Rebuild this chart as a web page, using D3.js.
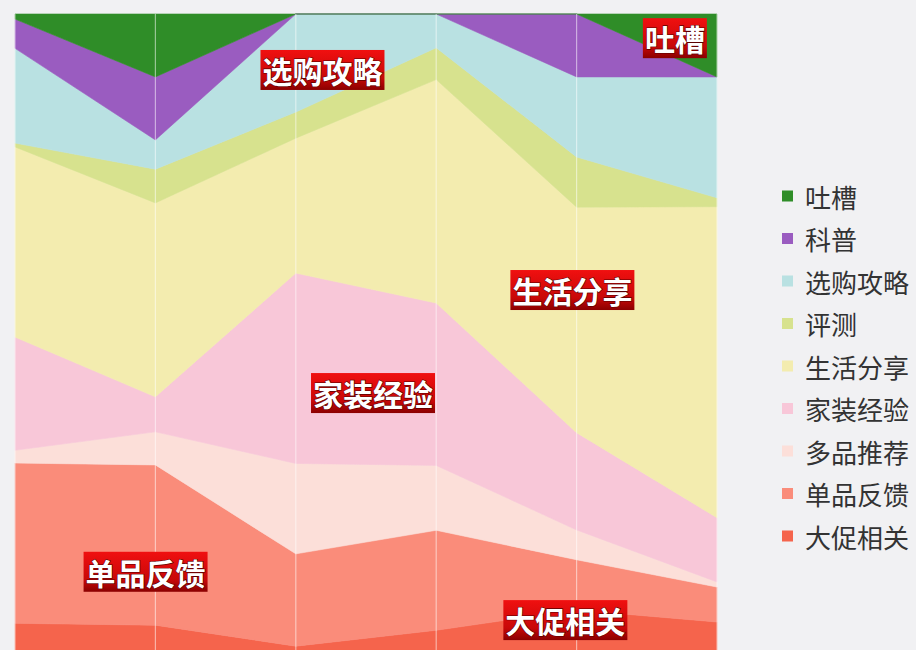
<!DOCTYPE html>
<html>
<head>
<meta charset="utf-8">
<script src="https://cdn.jsdelivr.net/npm/d3@7"></script>
<style>
  body { margin: 0; background: #f1f1f3; }
  svg { display: block; font-family: "Noto Sans CJK SC", "Noto Sans", sans-serif; }
</style>
</head>
<body>
<svg id="chart" width="916" height="650"></svg>
<script>
// Six reporting periods (x axis)
const periods = ["P1", "P2", "P3", "P4", "P5", "P6"];

// Content categories, bottom of the stack first
const categories = ["大促相关", "单品反馈", "多品推荐", "家装经验", "生活分享", "评测", "选购攻略", "科普", "吐槽"];

// Share of posts per category (%) in each period
const promo          = [4.2, 3.9, 0.6, 3.1, 6.3, 4.4];
const singleFeedback = [25.2, 25.2, 14.5, 15.7, 7.9, 5.5];
const multiPick      = [2.0, 5.2, 14.2, 10.2, 4.7, 0.8];
const homeDecor      = [17.8, 5.5, 29.9, 25.5, 15.3, 10.1];
const lifeSharing    = [29.9, 30.5, 21.2, 35.1, 35.5, 48.9];
const review         = [0.6, 5.3, 4.1, 5.0, 7.9, 1.4];
const buyingGuide    = [14.9, 4.6, 15.4, 5.3, 12.6, 19.0];
const science        = [4.6, 9.9, 0, 0, 9.9, 0];
const rant           = [0.8, 9.9, 0, 0, 0, 9.9];

const seriesValues = [promo, singleFeedback, multiPick, homeDecor, lifeSharing, review, buyingGuide, science, rant];

const colors = ["#f5644c", "#fa8c7a", "#fcdfd9", "#f8c7d8", "#f3ecaf", "#d7e28e", "#b9e1e2", "#9a5cc0", "#2f8d28"];

// Callout labels, anchored in data space: period index and cumulative share (%)
const callouts = [
  { name: "选购攻略", at: 2.19, share: 91.2 },
  { name: "吐槽",     at: 4.70, share: 96.2 },
  { name: "生活分享", at: 3.97, share: 56.6 },
  { name: "家装经验", at: 2.55, share: 40.4 },
  { name: "单品反馈", at: 0.93, share: 12.3 },
  { name: "大促相关", at: 3.92, share: 4.7 }
];

// Build rows for d3.stack
const rows = periods.map((p, i) => {
  const row = { period: p, idx: i };
  categories.forEach((c, k) => { row[c] = seriesValues[k][i]; });
  return row;
});

const stacked = d3.stack()
  .keys(categories)
  .offset(d3.stackOffsetExpand)(rows);

const svg = d3.select("#chart");
const plot = { left: 15, right: 717, top: 14, bottom: 650 };

const x = d3.scaleLinear().domain([0, periods.length - 1]).range([plot.left, plot.right]);
const y = d3.scaleLinear().domain([0, 1]).range([plot.bottom, plot.top]);
const color = d3.scaleOrdinal().domain(categories).range(colors);

// Stacked areas
const area = d3.area()
  .x(d => x(d.data.idx))
  .y0(d => y(d[0]))
  .y1(d => y(d[1]))
  .curve(d3.curveLinear);

svg.append("g")
  .selectAll("path")
  .data(stacked)
  .join("path")
  .attr("d", area)
  .attr("fill", d => color(d.key))
  .attr("stroke", d => color(d.key))
  .attr("stroke-width", 0.6);

// Vertical grid lines at each period
svg.append("g")
  .selectAll("line")
  .data(periods.map((p, i) => i))
  .join("line")
  .attr("x1", d => x(d)).attr("x2", d => x(d))
  .attr("y1", plot.top).attr("y2", plot.bottom)
  .attr("stroke", "rgba(255,255,255,0.5)")
  .attr("stroke-width", 1.2);

// Callout labels
const defs = svg.append("defs");
const grad = defs.append("linearGradient").attr("id", "tagFill").attr("x1", 0).attr("y1", 0).attr("x2", 0).attr("y2", 1);
grad.append("stop").attr("offset", "0%").attr("stop-color", "#f01010");
grad.append("stop").attr("offset", "70%").attr("stop-color", "#c80808");
grad.append("stop").attr("offset", "100%").attr("stop-color", "#8a0000");

const tags = svg.append("g")
  .selectAll("g")
  .data(callouts)
  .join("g")
  .attr("transform", d => `translate(${x(d.at)},${y(d.share / 100)})`);

tags.append("text")
  .attr("text-anchor", "middle")
  .attr("dominant-baseline", "central")
  .attr("font-size", 30)
  .attr("font-weight", "bold")
  .attr("fill", "#ffffff")
  .attr("stroke", "#5a0000")
  .attr("stroke-width", 1.2)
  .attr("paint-order", "stroke")
  .text(d => d.name);

tags.each(function () {
  const g = d3.select(this);
  const bb = g.select("text").node().getBBox();
  g.insert("rect", "text")
    .attr("x", bb.x - 2)
    .attr("y", -20)
    .attr("width", bb.width + 4)
    .attr("height", 40)
    .attr("fill", "url(#tagFill)");
});

// Legend, top category first
const legendItems = categories.slice().reverse();
const legend = svg.append("g")
  .selectAll("g")
  .data(legendItems)
  .join("g")
  .attr("transform", (d, i) => `translate(782,${196 + i * 42.5})`);

legend.append("rect")
  .attr("x", 0).attr("y", -5.5)
  .attr("width", 11).attr("height", 11)
  .attr("fill", d => color(d));

legend.append("text")
  .attr("x", 23)
  .attr("dominant-baseline", "central")
  .attr("font-size", 26)
  .attr("fill", "#333333")
  .text(d => d);
</script>
</body>
</html>
